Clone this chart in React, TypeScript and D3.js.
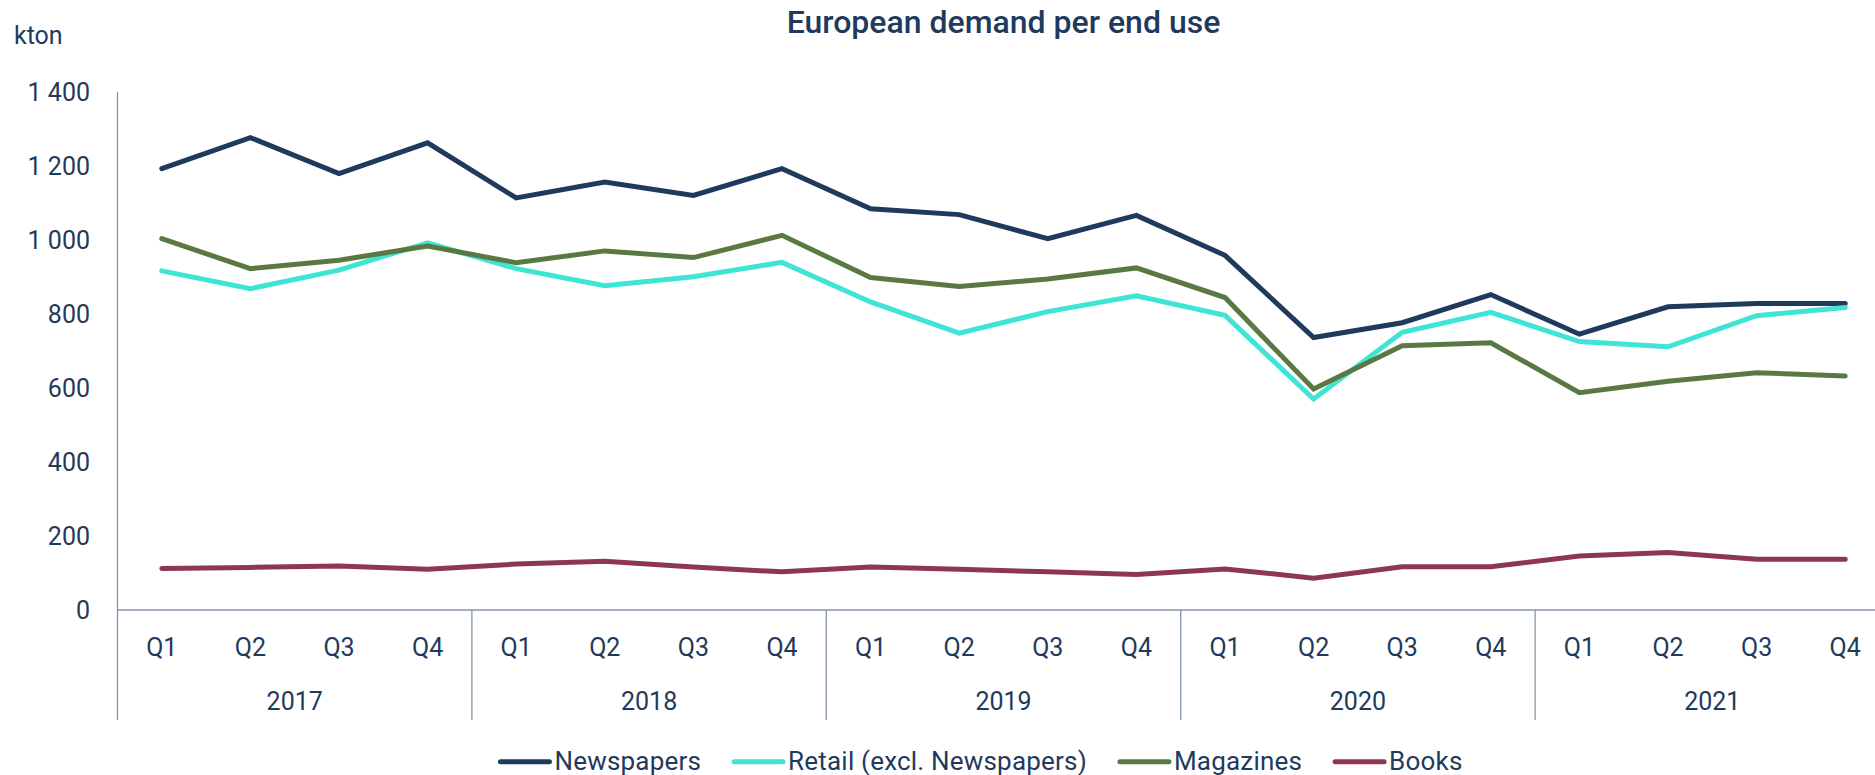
import React, { useEffect, useRef } from "react";
import * as d3 from "d3";

const title = "European demand per end use";
const unitLabel = "kton";
const years = ["2017", "2018", "2019", "2020", "2021"];
const quarters = ["Q1", "Q2", "Q3", "Q4"];
const yTicks = [0, 200, 400, 600, 800, 1000, 1200, 1400];

const newspapers = [1192, 1276, 1179, 1262, 1113, 1156, 1120, 1192, 1084, 1068, 1003, 1066, 958, 736, 776, 852, 745, 819, 828, 828];
const retail = [916, 868, 918, 992, 922, 876, 900, 939, 832, 748, 806, 849, 796, 570, 750, 804, 725, 711, 795, 817];
const magazines = [1003, 922, 945, 983, 938, 970, 952, 1012, 898, 874, 894, 924, 844, 597, 714, 722, 587, 618, 641, 632];
const books = [112, 115, 119, 110, 124, 132, 116, 103, 116, 110, 103, 96, 111, 86, 117, 117, 146, 155, 137, 137];

const seriesNames = ["Newspapers", "Retail (excl. Newspapers)", "Magazines", "Books"];
const seriesValues = [newspapers, retail, magazines, books];
const seriesColors = ["#1f3a5c", "#3ee4d4", "#5a7942", "#8d3657"];

const W = 1875;
const H = 775;
const FONT = "Roboto, 'Noto Sans', sans-serif";
const TEXT = "#1f3a5c";
const AXIS = "#8795aa";

export default function App() {
  const ref = useRef<SVGSVGElement | null>(null);

  useEffect(() => {
    const svg = d3.select(ref.current);
    svg.selectAll("*").remove();

    const left = 117.5;
    const bandW = 88.6;
    const n = years.length * quarters.length;
    const idx = d3.range(n);
    const x = d3.scaleBand<number>().domain(idx).range([left, left + bandW * n]).padding(0);
    const y = d3.scaleLinear().domain([0, 1400]).range([610, 91.7]);
    const fmt = d3.formatLocale({ thousands: " ", grouping: [3], decimal: ".", currency: ["", ""] }).format(",");

    // title
    svg.append("text")
      .attr("x", left + (bandW * n) / 2)
      .attr("y", 33)
      .attr("text-anchor", "middle")
      .attr("font-family", FONT)
      .attr("font-weight", 500)
      .attr("font-size", 32)
      .attr("fill", TEXT)
      .text(title);

    svg.append("text")
      .attr("x", 14)
      .attr("y", 44)
      .attr("font-family", FONT)
      .attr("font-size", 25)
      .attr("fill", TEXT)
      .text(unitLabel);

    // y labels
    svg.append("g").selectAll("text").data(yTicks).join("text")
      .attr("x", 90)
      .attr("y", (d) => y(d))
      .attr("dy", "0.36em")
      .attr("text-anchor", "end")
      .attr("font-family", FONT)
      .attr("font-size", 25)
      .attr("fill", TEXT)
      .text((d) => fmt(d));

    // axes lines
    svg.append("line")
      .attr("x1", left).attr("x2", left)
      .attr("y1", y(1400)).attr("y2", 720)
      .attr("stroke", AXIS).attr("stroke-width", 1.3);
    svg.append("line")
      .attr("x1", left).attr("x2", left + bandW * n)
      .attr("y1", y(0)).attr("y2", y(0))
      .attr("stroke", AXIS).attr("stroke-width", 1.3);

    // year dividers
    svg.append("g").selectAll("line").data(years.slice(1)).join("line")
      .attr("x1", (_, i) => x((i + 1) * quarters.length) as number)
      .attr("x2", (_, i) => x((i + 1) * quarters.length) as number)
      .attr("y1", y(0)).attr("y2", 720)
      .attr("stroke", AXIS).attr("stroke-width", 1.3);

    // quarter labels
    svg.append("g").selectAll("text").data(idx).join("text")
      .attr("x", (d) => (x(d) as number) + x.bandwidth() / 2)
      .attr("y", 656)
      .attr("text-anchor", "middle")
      .attr("font-family", FONT)
      .attr("font-size", 25)
      .attr("fill", TEXT)
      .text((d) => quarters[d % quarters.length]);

    // year labels
    svg.append("g").selectAll("text").data(years).join("text")
      .attr("x", (_, i) => (x(i * quarters.length) as number) + (x.bandwidth() * quarters.length) / 2)
      .attr("y", 710)
      .attr("text-anchor", "middle")
      .attr("font-family", FONT)
      .attr("font-size", 25)
      .attr("fill", TEXT)
      .text((d) => d);

    // lines
    const line = d3.line<number>()
      .x((_, i) => (x(i) as number) + x.bandwidth() / 2)
      .y((d) => y(d));
    svg.append("g").selectAll("path").data(seriesValues).join("path")
      .attr("d", (d) => line(d))
      .attr("fill", "none")
      .attr("stroke", (_, i) => seriesColors[i])
      .attr("stroke-width", 5)
      .attr("stroke-linecap", "round")
      .attr("stroke-linejoin", "miter");

    // legend
    const lg = svg.append("g");
    const swatch = 55;
    const gapText = 2;
    const gapItem = 30;
    const items = seriesNames.map((name, i) => {
      const g = lg.append("g");
      g.append("line")
        .attr("x1", 3).attr("x2", swatch - 3)
        .attr("y1", 761.7).attr("y2", 761.7)
        .attr("stroke", seriesColors[i])
        .attr("stroke-width", 5)
        .attr("stroke-linecap", "round");
      const t = g.append("text")
        .attr("x", swatch + gapText)
        .attr("y", 770)
        .attr("font-family", FONT)
        .attr("font-size", 26)
        .attr("letter-spacing", 0.2)
        .attr("fill", TEXT)
        .text(name);
      const w = (t.node() as SVGTextElement).getComputedTextLength();
      return { g, w: swatch + gapText + w };
    });
    const total = d3.sum(items, (d) => d.w) + gapItem * (items.length - 1);
    let cx = 980 - total / 2;
    items.forEach((it) => {
      it.g.attr("transform", `translate(${cx},0)`);
      cx += it.w + gapItem;
    });
  }, []);

  return (
    <svg
      ref={ref}
      width={W}
      height={H}
      style={{ position: "absolute", left: 0, top: 0, background: "#fff", overflow: "hidden" }}
    />
  );
}
